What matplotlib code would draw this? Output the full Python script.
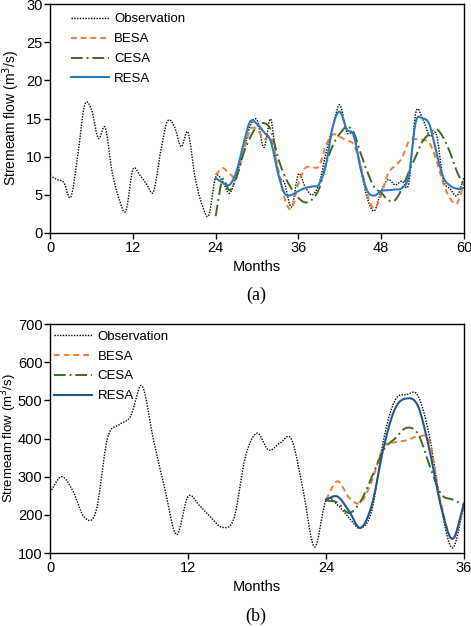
import numpy as np
import matplotlib
matplotlib.use("Agg")
import matplotlib.pyplot as plt

plt.rcParams['font.family'] = ['Liberation Sans', 'DejaVu Sans']

# (a) monthly streamflow, months 0..60
months_a = np.arange(0, 61)
obs_a = [7.5, 7.0, 6.6, 4.7, 10.0, 16.7, 16.2, 12.4, 13.8, 8.0,
         4.5, 2.9, 8.3, 7.6, 6.4, 5.4, 10.5, 14.6, 14.0, 11.3,
         13.2, 7.4, 3.8, 2.3, 7.3, 6.8, 5.2, 7.5, 10.5, 14.0,
         14.8, 11.2, 14.9, 8.0, 6.5, 3.4, 7.7, 6.0, 5.0, 6.5,
         10.5, 14.0, 16.8, 13.2, 12.9, 8.5, 4.5, 2.9, 5.5, 7.0,
         6.3, 6.8, 6.5, 15.7, 15.0, 12.7, 12.9, 7.0, 5.8, 4.9, 7.3]
# forecasts, months 24..60
fc_months_a = np.arange(24, 61)
besa_a = [7.6, 8.5, 7.8, 7.4, 10.5, 13.5, 13.6, 12.3, 12.5, 8.8,
          4.5, 3.2, 6.5, 8.5, 8.6, 8.8, 11.5, 12.9, 12.6, 12.1,
          11.6, 9.0, 5.0, 3.2, 5.0, 7.8, 8.8, 9.8, 12.0, 12.3,
          12.2, 11.8, 9.5, 6.5, 4.5, 3.9, 6.5]
cesa_a = [2.2, 7.0, 5.6, 7.2, 10.3, 12.5, 14.0, 14.4, 13.5, 10.0,
          7.5, 5.8, 4.6, 4.0, 4.4, 5.8, 9.0, 11.5, 13.0, 13.9,
          13.2, 10.5, 8.0, 6.0, 5.3, 4.3, 4.3, 5.8, 8.0, 10.0,
          12.0, 13.0, 13.6, 12.5, 10.5, 8.0, 6.2]
resa_a = [7.2, 6.6, 6.3, 8.0, 11.5, 14.6, 14.3, 13.2, 12.0, 8.0,
          5.2, 5.0, 5.5, 5.9, 6.1, 6.4, 9.0, 14.0, 15.9, 13.6,
          12.8, 8.5, 5.5, 4.9, 5.5, 5.6, 5.7, 5.9, 7.5, 14.5,
          15.0, 14.2, 10.5, 7.3, 6.2, 5.8, 5.9]

# (b) monthly streamflow, months 0..36
months_b = np.arange(0, 37)
obs_b = [259, 300, 262, 193, 210, 401, 436, 458, 538, 396,
         266, 148, 248, 224, 193, 167, 192, 353, 414, 370,
         388, 398, 266, 116, 238, 226, 192, 165, 213, 396,
         500, 515, 512, 405, 222, 113, 225]
fc_months_b = np.arange(24, 37)
besa_b = [240, 288, 245, 232, 290, 378, 390, 395, 405, 390, 230, 135, 225]
cesa_b = [238, 232, 205, 235, 300, 370, 400, 428, 412, 330, 255, 240, 226]
resa_b = [240, 248, 210, 166, 228, 375, 478, 505, 485, 370, 222, 137, 230]

series_names = ['Observation', 'BESA', 'CESA', 'RESA']


def smooth(x, y, n=16):
    # Catmull-Rom curve through the monthly points (like Excel "smoothed line")
    x = np.asarray(x, float)
    y = np.asarray(y, float)
    px = np.concatenate([[2 * x[0] - x[1]], x, [2 * x[-1] - x[-2]]])
    py = np.concatenate([[2 * y[0] - y[1]], y, [2 * y[-1] - y[-2]]])
    t = np.linspace(0, 1, n, endpoint=False)
    xs, ys = [], []
    for i in range(1, len(px) - 2):
        for p, out in ((px, xs), (py, ys)):
            p0, p1, p2, p3 = p[i - 1], p[i], p[i + 1], p[i + 2]
            out.append(0.5 * ((2 * p1) + (-p0 + p2) * t
                              + (2 * p0 - 5 * p1 + 4 * p2 - p3) * t ** 2
                              + (-p0 + 3 * p1 - 3 * p2 + p3) * t ** 3))
    xs.append([x[-1]])
    ys.append([y[-1]])
    return np.concatenate(xs), np.concatenate(ys)


def draw(ax, months, obs, fc_months, besa, cesa, resa, blue, ylim, yticks,
         xticks, leg_anchor, ylabel_x, ylabel_size):
    ax.plot(*smooth(months, obs), color='black', lw=1.0, ls=(0, (1, 1)),
            label=series_names[0])
    ax.plot(*smooth(fc_months, besa), color='#F07D32', lw=1.4, ls=(0, (3, 2)),
            label=series_names[1])
    ax.plot(*smooth(fc_months, cesa), color='#3D6B22', lw=1.4,
            ls=(0, (6, 2, 1, 2)), label=series_names[2])
    ax.plot(*smooth(fc_months, resa), color=blue, lw=1.5, ls='-',
            label=series_names[3])
    ax.set_xlim(xticks[0], xticks[-1])
    ax.set_ylim(*ylim)
    ax.set_xticks(xticks)
    ax.set_yticks(yticks)
    ax.tick_params(direction='out', length=4, width=1, labelsize=10.5, pad=1.5)
    for s in ax.spines.values():
        s.set_linewidth(1.0)
    ax.set_xlabel('Months', fontsize=10.5, labelpad=4)
    ax.set_ylabel('Stremeam flow (m$^{3}$/s)', fontsize=ylabel_size)
    ax.yaxis.set_label_coords(ylabel_x, 0.5)
    ax.legend(loc='upper left', bbox_to_anchor=leg_anchor, frameon=False,
              fontsize=9.5, handlelength=2.9, labelspacing=0.58,
              borderaxespad=0, borderpad=0, handletextpad=0.4)


fig = plt.figure(figsize=(4.71, 6.27), dpi=100)
ax1 = fig.add_axes([0.1062, 0.6284, 0.8789, 0.3652])
ax2 = fig.add_axes([0.1062, 0.1180, 0.8789, 0.3652])

draw(ax1, months_a, obs_a, fc_months_a, besa_a, cesa_a, resa_a, '#2E78C2',
     (0, 30), range(0, 31, 5), [0, 12, 24, 36, 48, 60], (0.05, 0.96),
     -0.068, 10)
draw(ax2, months_b, obs_b, fc_months_b, besa_b, cesa_b, resa_b, '#23558F',
     (100, 700), range(100, 701, 100), [0, 12, 24, 36], (0.01, 0.972),
     -0.076, 9.5)

fig.text(0.543, 1 - 295 / 627, '(a)', ha='center', va='center', fontsize=13,
         family='Liberation Serif')
fig.text(0.543, 1 - 616 / 627, '(b)', ha='center', va='center', fontsize=13,
         family='Liberation Serif')

fig.savefig('out.png', dpi=100)
